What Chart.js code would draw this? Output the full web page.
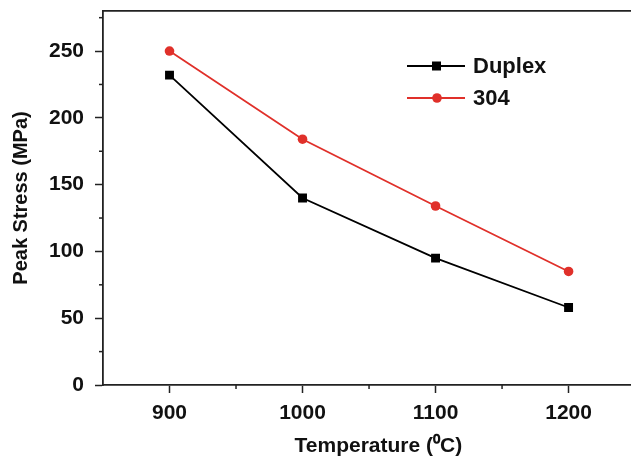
<!DOCTYPE html>
<html><head><meta charset="utf-8">
<script src="https://cdn.jsdelivr.net/npm/chart.js@4/dist/chart.umd.min.js"></script>
<style>html,body{margin:0;padding:0;overflow:hidden;background:#fff;width:631px;height:464px}#wrap{width:660px;height:464px;position:relative}</style>
</head><body><div id="wrap"><canvas id="c" width="660" height="464"></canvas></div>
<script>
const temperatures = [900, 1000, 1100, 1200];
const duplexStress = [232, 140, 95, 58];
const ss304Stress = [250, 184, 134, 85];
const xTicks = [900, 1000, 1100, 1200];
const yTicks = [0, 50, 100, 150, 200, 250];
const xMinor = [950, 1050, 1150, 1250];
const yMinor = [25, 75, 125, 175, 225, 275];

const AX = '#222';
const RED = '#e0302a';
const FAM = '"Liberation Sans", Arial, Helvetica, sans-serif';
const TICKFONT = {family: FAM, weight: 'bold', size: 21};
const XTITLEFONT = {family: FAM, weight: 'bold', size: 21};
const YTITLEFONT = {family: FAM, weight: 'bold', size: 20};

const minorTicks = {
  id: 'minorTicks',
  afterDraw(chart) {
    const ctx = chart.ctx, x = chart.scales.x, y = chart.scales.y;
    ctx.save();
    ctx.strokeStyle = AX; ctx.lineWidth = 1.5;
    xMinor.forEach(v => { const p = x.getPixelForValue(v); if (p > x.left && p < x.right) { ctx.beginPath(); ctx.moveTo(p, x.top); ctx.lineTo(p, x.top + 4); ctx.stroke(); }});
    yMinor.forEach(v => { const p = y.getPixelForValue(v); if (p > y.top - 1) { ctx.beginPath(); ctx.moveTo(y.right, p); ctx.lineTo(y.right - 4, p); ctx.stroke(); }});
    ctx.restore();
  }
};

const legendBox = {
  id: 'legendBox',
  afterDraw(chart) {
    const ctx = chart.ctx;
    const rows = [66, 98];
    ctx.save();
    chart.data.datasets.forEach((ds, i) => {
      const yy = rows[i];
      ctx.strokeStyle = ds.borderColor; ctx.lineWidth = 2;
      ctx.beginPath(); ctx.moveTo(407, yy); ctx.lineTo(465, yy); ctx.stroke();
      ctx.fillStyle = ds.pointBackgroundColor;
      if (ds.pointStyle === 'rect') { ctx.fillRect(432, yy - 4.5, 9, 9); }
      else { ctx.beginPath(); ctx.arc(437, yy, 4.8, 0, Math.PI * 2); ctx.fill(); }
      ctx.fillStyle = '#111';
      ctx.font = 'bold 22px ' + FAM;
      ctx.textBaseline = 'middle'; ctx.textAlign = 'left';
      ctx.fillText(ds.label, 473, yy + 1);
    });
    ctx.restore();
  }
};

const noPadH = s => { s.paddingLeft = 0; s.paddingRight = 0; };
const noPadV = s => { s.paddingTop = 0; s.paddingBottom = 0; };

new Chart(document.getElementById('c'), {
  type: 'line',
  data: {
    datasets: [
      {label: 'Duplex', data: temperatures.map((t, i) => ({x: t, y: duplexStress[i]})), borderColor: '#000', backgroundColor: '#000', pointBackgroundColor: '#000', pointBorderColor: '#000', borderWidth: 1.8, pointStyle: 'rect', pointRadius: 6.3, pointBorderWidth: 0, tension: 0},
      {label: '304', data: temperatures.map((t, i) => ({x: t, y: ss304Stress[i]})), borderColor: RED, backgroundColor: RED, pointBackgroundColor: RED, pointBorderColor: RED, borderWidth: 1.8, pointStyle: 'circle', pointRadius: 4.8, pointBorderWidth: 0, tension: 0}
    ]
  },
  options: {
    responsive: false, animation: false,
    layout: {padding: 0},
    plugins: {legend: {display: false}, tooltip: {enabled: false}},
    scales: {
      x: {
        type: 'linear', position: 'bottom', min: 850, max: 1264,
        afterBuildTicks: s => { s.ticks = xTicks.map(v => ({value: v})); },
        afterFit: s => { s.height = 79; noPadH(s); },
        ticks: {font: TICKFONT, color: '#111', padding: 8, maxRotation: 0, callback: v => String(v)},
        grid: {display: true, drawOnChartArea: false, drawTicks: true, tickLength: 8, tickColor: AX, tickWidth: 1.5},
        border: {display: true, color: AX, width: 1.8},
        title: {display: true, text: 'Temperature (\u2070C)', font: XTITLEFONT, color: '#111', padding: {top: 0, bottom: 5}}
      },
      x2: {
        type: 'linear', position: 'top', min: 850, max: 1264, display: true,
        afterFit: s => { s.height = 11; noPadH(s); },
        ticks: {display: false},
        grid: {display: true, drawOnChartArea: false, drawTicks: false},
        border: {display: true, color: AX, width: 1.8}
      },
      y: {
        type: 'linear', position: 'left', min: 0, max: 280,
        afterBuildTicks: s => { s.ticks = yTicks.map(v => ({value: v})); },
        afterFit: s => { s.width = 103; noPadV(s); },
        ticks: {font: TICKFONT, color: '#111', padding: 11, callback: v => String(v)},
        grid: {display: true, drawOnChartArea: false, drawTicks: true, tickLength: 8, tickColor: AX, tickWidth: 1.5},
        border: {display: true, color: AX, width: 1.8},
        title: {display: true, text: 'Peak Stress (MPa)', font: YTITLEFONT, color: '#111', padding: {top: 9, bottom: 0}}
      }
    }
  },
  plugins: [minorTicks, legendBox]
});
</script></body></html>
